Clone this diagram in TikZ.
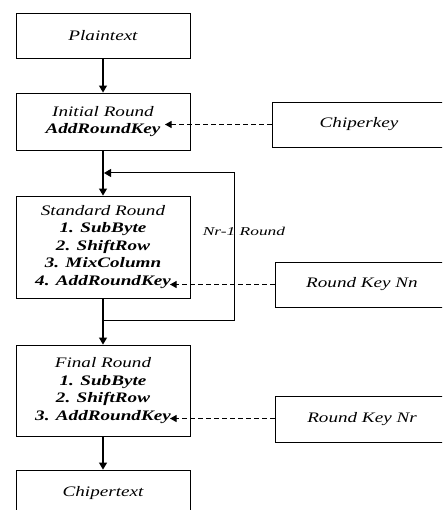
\documentclass[tikz,border=0pt]{standalone}
\usepackage{fontspec}
\newfontfamily\tf{Liberation Serif}[FakeStretch=1.32]
\newfontfamily\tfs{Liberation Serif}[FakeStretch=1.45]
\usetikzlibrary{arrows.meta}
\begin{document}
\begin{tikzpicture}[x=1pt,y=-1pt,
  box/.style={draw=black,line width=0.9pt,minimum width=174pt,inner sep=0pt,
    font=\tf\fontsize{14.5}{17.5}\selectfont\itshape,align=center},
  flow/.style={line width=1.2pt,-{Triangle[length=7pt,width=8pt]}},
  keyarrow/.style={line width=0.9pt,dash pattern=on 5pt off 3pt,-{Triangle[length=6.5pt,width=7pt]}},
  lbl/.style={font=\tfs\fontsize{12}{13}\selectfont\itshape}]
\useasboundingbox (0,0) rectangle (442,510);
\clip (0,0) rectangle (442,510);
\node[box,minimum height=45pt] (plain) at (103,35.5) {Plaintext};
\node[box,minimum height=57pt] (init) at (103,121.5) {Initial Round\\\bfseries AddRoundKey};
\node[box,minimum height=102pt] (std) at (103,247) {Standard Round\\\bfseries 1. SubByte\\\bfseries 2. ShiftRow\\\bfseries 3. MixColumn\\\bfseries 4. AddRoundKey};
\node[box,minimum height=91pt] (final) at (103,390.5) {Final Round\\\bfseries 1. SubByte\\\bfseries 2. ShiftRow\\\bfseries 3. AddRoundKey};
\node[box,minimum height=46pt] (cipher) at (103,493) {Chipertext};
\node[box,minimum height=45pt] (ckey) at (359,124.5) {Chiperkey};
\node[box,minimum height=45pt] (rkn) at (362,284.5) {Round Key Nn};
\node[box,minimum height=46pt] (rkr) at (362,419) {Round Key Nr};
\node[lbl] (nr) at (244,231) {Nr-1 Round};
\coordinate (t1) at (165,124.5);
\coordinate (t2) at (170,284.5);
\coordinate (t3) at (170,418.5);
\coordinate (lt) at (104,173);
\coordinate (rt) at (234,173);
\coordinate (rb) at (234,320);
\coordinate (lb) at (104,320);
\draw[flow] (plain.south) -- (init.north);
\draw[flow] (init.south) -- (std.north);
\draw[flow] (std.south) -- (final.north);
\draw[flow] (final.south) -- (cipher.north);
\draw[line width=1pt,-{Triangle[length=7pt,width=8pt]}] (lb) -- (rb) -- (rt) -- (lt);
\draw[keyarrow] (ckey.west) -- (t1);
\draw[keyarrow] (rkn.west) -- (t2);
\draw[keyarrow] (rkr.west |- t3) -- (t3);
\end{tikzpicture}
\end{document}
